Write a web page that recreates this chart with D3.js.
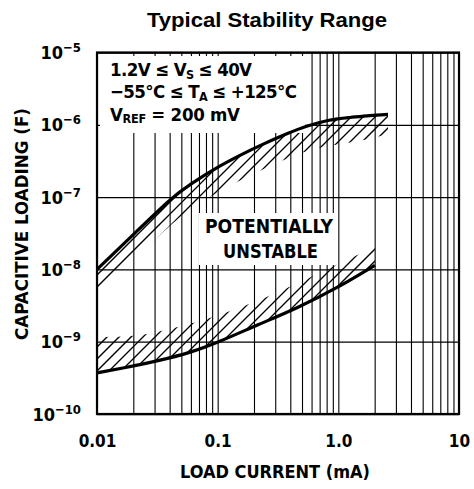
<!DOCTYPE html>
<html><head><meta charset="utf-8">
<script src="https://cdn.jsdelivr.net/npm/d3@7"></script>
<style>body{margin:0;background:#fff}svg{display:block}</style>
</head><body>
<svg id="c" width="474" height="489"></svg>
<script>
// ---- data ----
const xTickValues = [0.01, 0.1, 1, 10];
const xTickLabels = ["0.01", "0.1", "1.0", "10"];
const yTickValues = [1e-10, 1e-9, 1e-8, 1e-7, 1e-6, 1e-5];
const yTickExponents = ["−10", "−9", "−8", "−7", "−6", "−5"];
const gridMultipliers = [1, 2, 3, 4, 5, 6, 7, 8, 9];

// upper stability boundary (mA, F)
const upperCurrent = [0.01, 0.0207, 0.042, 0.059, 0.0987, 0.153, 0.224, 0.397, 0.529, 0.853, 1.25, 1.83, 2.58];
const upperCap     = [1.0e-8, 3.2e-8, 1.0e-7, 1.5e-7, 2.58e-7, 3.78e-7, 5.19e-7, 7.85e-7, 9.5e-7, 1.19e-6, 1.26e-6, 1.35e-6, 1.39e-6];
const upperBandLow = [4.4e-9, 1.43e-8, 4.35e-8, 6.8e-8, 1.16e-7, 1.7e-7, 2.34e-7, 3.55e-7, 4.3e-7, 5.2e-7, 5.7e-7, 6.3e-7, 7.6e-7];

// lower stability boundary (mA, F)
const lowerCurrent  = [0.01, 0.0214, 0.0314, 0.059, 0.104, 0.212, 0.454, 0.975, 2.01];
const lowerCap      = [3.7e-10, 4.7e-10, 5.4e-10, 7.0e-10, 1.0e-9, 1.7e-9, 2.9e-9, 5.5e-9, 1.14e-8];
const lowerBandHigh = [1.16e-9, 1.19e-9, 1.36e-9, 1.75e-9, 2.33e-9, 3.6e-9, 6.3e-9, 1.18e-8, 2.03e-8];

// ---- chart ----
const svg = d3.select("#c");
const m = {l: 97, r: 459, t: 52.5, b: 414};
const x = d3.scaleLog().domain([0.01, 10]).range([m.l, m.r]);
const y = d3.scaleLog().domain([1e-10, 1e-5]).range([m.b, m.t]);
const NARROW = "'Liberation Sans Narrow','DejaVu Sans Condensed','Arial Narrow',sans-serif";

// grid
const xGridVals = [];
xTickValues.slice(0, 3).forEach(d => gridMultipliers.forEach(k => xGridVals.push(d * k)));
xGridVals.push(10);
svg.append("g").attr("transform", `translate(0,${m.b})`)
  .call(d3.axisBottom(x).tickValues(xGridVals).tickSize(-(m.b - m.t)).tickFormat(""))
  .call(g => g.select(".domain").remove())
  .call(g => g.selectAll("line").attr("stroke", "#000").attr("stroke-width", 1.1));
svg.append("g").attr("transform", `translate(${m.l},0)`)
  .call(d3.axisLeft(y).tickValues(yTickValues).tickSize(-(m.r - m.l)).tickFormat(""))
  .call(g => g.select(".domain").remove())
  .call(g => g.selectAll("line").attr("stroke", "#000").attr("stroke-width", 1.3));

// hatched bands
const defs = svg.append("defs");
function band(id, xs, lo, hi) {
  const idx = d3.range(xs.length);
  const area = d3.area().curve(d3.curveBasis)
    .x(i => x(xs[i])).y0(i => y(lo[i])).y1(i => y(hi[i]));
  defs.append("clipPath").attr("id", id).append("path").attr("d", area(idx));
  const g = svg.append("g").attr("clip-path", `url(#${id})`);
  for (let s = -400; s < 480; s += 12) {
    g.append("line").attr("x1", s).attr("y1", 460).attr("x2", s + 440).attr("y2", 20)
      .attr("stroke", "#000").attr("stroke-width", 1.3);
  }
}
band("bandU", upperCurrent, upperBandLow, upperCap);
band("bandL", lowerCurrent, lowerCap, lowerBandHigh);

// white label boxes
svg.append("rect").attr("x", 100).attr("y", 56).attr("width", 205).attr("height", 77).attr("fill", "#fff");
svg.append("rect").attr("x", 199).attr("y", 213).attr("width", 137).attr("height", 52).attr("fill", "#fff");

// curves
const line = d3.line().curve(d3.curveBasis);
svg.append("path").attr("d", line(upperCurrent.map((d, i) => [x(d), y(upperCap[i])])))
  .attr("fill", "none").attr("stroke", "#000").attr("stroke-width", 3.2);
svg.append("path").attr("d", line(lowerCurrent.map((d, i) => [x(d), y(lowerCap[i])])))
  .attr("fill", "none").attr("stroke", "#000").attr("stroke-width", 3.2);

// frame
svg.append("rect").attr("x", m.l).attr("y", m.t).attr("width", m.r - m.l).attr("height", m.b - m.t)
  .attr("fill", "none").attr("stroke", "#000").attr("stroke-width", 2.2);

// x tick labels
svg.append("g").attr("transform", `translate(0,${m.b})`)
  .call(d3.axisBottom(x).tickValues(xTickValues).tickSize(0).tickPadding(0)
    .tickFormat((d, i) => xTickLabels[i]))
  .call(g => g.select(".domain").remove())
  .call(g => g.selectAll("text").attr("y", 33).attr("dy", null)
    .attr("font-family", NARROW).attr("font-weight", "bold").attr("font-size", 17).attr("fill", "#000"));

// y tick labels
svg.append("g").attr("transform", `translate(${m.l},0)`)
  .call(d3.axisLeft(y).tickValues(yTickValues).tickSize(0).tickFormat(""))
  .call(g => g.select(".domain").remove())
  .call(g => g.selectAll(".tick").each(function (d, i) {
    const t = d3.select(this).append("text").attr("x", -16).attr("y", 6)
      .attr("text-anchor", "end").attr("font-family", NARROW).attr("font-weight", "bold").attr("fill", "#000");
    t.append("tspan").attr("font-size", 18).text("10");
    t.append("tspan").attr("font-size", 13).attr("dy", -7).text(yTickExponents[i]);
  }));

// titles
svg.append("text").attr("x", 267).attr("y", 27).attr("text-anchor", "middle")
  .attr("font-family", "'Liberation Sans',Arial,sans-serif").attr("font-weight", "bold").attr("font-size", 20.5)
  .attr("textLength", 240).attr("lengthAdjust", "spacingAndGlyphs")
  .text("Typical Stability Range");
svg.append("text").attr("x", 275).attr("y", 478).attr("text-anchor", "middle")
  .attr("font-family", NARROW).attr("font-weight", "bold").attr("font-size", 18)
  .attr("textLength", 190).attr("lengthAdjust", "spacingAndGlyphs")
  .text("LOAD CURRENT (mA)");
svg.append("text").attr("transform", "translate(28,224) rotate(-90)").attr("text-anchor", "middle")
  .attr("font-family", NARROW).attr("font-weight", "bold").attr("font-size", 18)
  .attr("textLength", 232).attr("lengthAdjust", "spacingAndGlyphs")
  .text("CAPACITIVE LOADING (F)");

// condition annotations
function rich(xp, yp, parts, len) {
  const t = svg.append("text").attr("x", xp).attr("y", yp)
    .attr("font-family", NARROW).attr("font-weight", "bold").attr("fill", "#000");
  if (len) t.attr("textLength", len).attr("lengthAdjust", "spacing");
  parts.forEach(p => {
    const s = t.append("tspan").attr("font-size", p.sub ? 12.5 : 18.5).text(p.t);
    if (p.dy) s.attr("dy", p.dy);
  });
}
rich(110, 76, [{t: "1.2V ≤ V"}, {t: "S", sub: 1, dy: 3}, {t: " ≤ 40V", dy: -3}], 142);
rich(110, 98, [{t: "−55°C ≤ T"}, {t: "A", sub: 1, dy: 3}, {t: " ≤ +125°C", dy: -3}], 187);
rich(110, 121, [{t: "V"}, {t: "REF", sub: 1, dy: 2}, {t: " = 200 mV", dy: -2}], 130);

svg.append("text").attr("x", 269).attr("y", 233).attr("text-anchor", "middle")
  .attr("font-family", NARROW).attr("font-weight", "bold").attr("font-size", 19.5)
  .attr("textLength", 128).attr("lengthAdjust", "spacingAndGlyphs").text("POTENTIALLY");
svg.append("text").attr("x", 270.5).attr("y", 258).attr("text-anchor", "middle")
  .attr("font-family", NARROW).attr("font-weight", "bold").attr("font-size", 19.5)
  .attr("textLength", 95).attr("lengthAdjust", "spacingAndGlyphs").text("UNSTABLE");
</script>
</body></html>
